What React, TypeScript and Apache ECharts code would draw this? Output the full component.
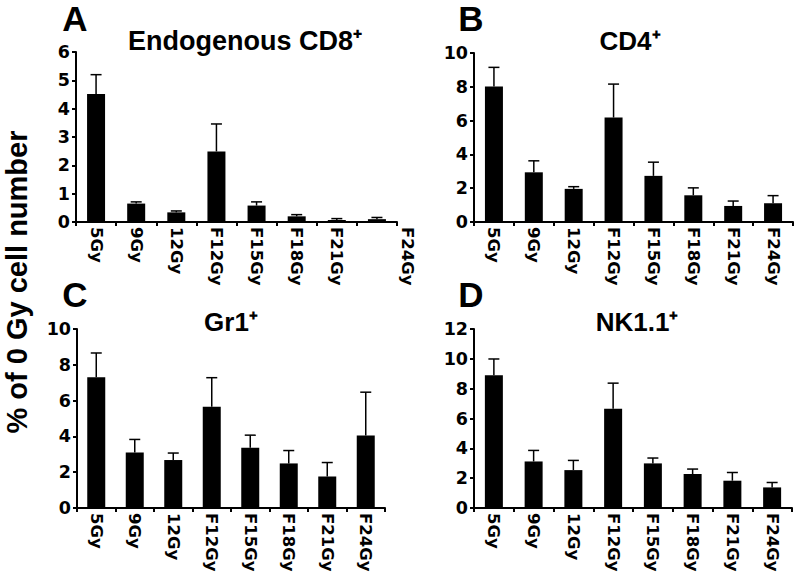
import React, { useEffect, useRef } from 'react';
import * as echarts from 'echarts';

const categories = ['5Gy', '9Gy', '12Gy', 'F12Gy', 'F15Gy', 'F18Gy', 'F21Gy', 'F24Gy'];

const cd8Mean = [4.52, 0.65, 0.34, 2.49, 0.58, 0.2, 0.07, 0.1];
const cd8Err = [0.68, 0.06, 0.05, 0.97, 0.13, 0.06, 0.05, 0.06];
const cd4Mean = [8.02, 2.94, 1.96, 6.18, 2.73, 1.58, 0.95, 1.11];
const cd4Err = [1.13, 0.68, 0.13, 1.98, 0.81, 0.44, 0.29, 0.45];
const gr1Mean = [7.31, 3.1, 2.68, 5.65, 3.36, 2.49, 1.76, 4.05];
const gr1Err = [1.35, 0.73, 0.39, 1.63, 0.71, 0.72, 0.78, 2.42];
const nkMean = [8.9, 3.12, 2.54, 6.65, 2.99, 2.28, 1.83, 1.38];
const nkErr = [1.09, 0.74, 0.65, 1.72, 0.36, 0.33, 0.55, 0.33];

const titles = ['Endogenous CD8⁺', 'CD4⁺', 'Gr1⁺', 'NK1.1⁺'];
const letters = ['A', 'B', 'C', 'D'];
const yMax = [6, 10, 10, 12];
const yInterval = [1, 2, 2, 2];
const yAxisName = '% of 0 Gy cell number';

const FONT = 'Liberation Sans';
const TICK_FONT = 'DejaVu Sans';

export default function App() {
  const ref = useRef<HTMLDivElement>(null);
  useEffect(() => {
    document.body.style.margin = '0';
    const chart = echarts.init(ref.current!, null, { renderer: 'svg' });

    const panels = [
      { mean: cd8Mean, err: cd8Err, grid: { left: 76, top: 52, width: 321, height: 170 }, title: [245, 41], titleSize: 27, letter: [75, 18], hideLast: true },
      { mean: cd4Mean, err: cd4Err, grid: { left: 474, top: 53, width: 319, height: 169 }, title: [630, 41], titleSize: 26, letter: [471, 18], hideLast: false },
      { mean: gr1Mean, err: gr1Err, grid: { left: 77, top: 329, width: 308, height: 179 }, title: [231, 322], titleSize: 26, letter: [75, 294], hideLast: false },
      { mean: nkMean, err: nkErr, grid: { left: 474, top: 329, width: 318, height: 179 }, title: [637, 322], titleSize: 26, letter: [471, 294], hideLast: false },
    ];

    const axisLine = { show: true, lineStyle: { color: '#000', width: 2 } };
    const axisTick = { show: true, length: 4, lineStyle: { color: '#000', width: 2 } };
    const labelStyle = { color: '#000', fontFamily: TICK_FONT, fontWeight: 700 };

    const graphic: any[] = [];
    panels.forEach((p, i) => {
      graphic.push({
        type: 'text', x: p.title[0], y: p.title[1],
        style: { text: titles[i], fontFamily: FONT, fontWeight: 700, fontSize: p.titleSize, fill: '#000', textAlign: 'center', textVerticalAlign: 'middle' },
      });
      graphic.push({
        type: 'text', x: p.letter[0], y: p.letter[1],
        style: { text: letters[i], fontFamily: FONT, fontWeight: 700, fontSize: 35, fill: '#000', textAlign: 'center', textVerticalAlign: 'middle' },
      });
    });
    graphic.push({
      type: 'text', x: 407, y: 227, rotation: -Math.PI / 2,
      style: { text: categories[7], fontFamily: TICK_FONT, fontWeight: 700, fontSize: 16.5, fill: '#000', textAlign: 'left', textVerticalAlign: 'middle' },
    });
    graphic.push({
      type: 'text', x: 17, y: 282, rotation: Math.PI / 2,
      style: { text: yAxisName, fontFamily: FONT, fontWeight: 700, fontSize: 29, fill: '#000', textAlign: 'center', textVerticalAlign: 'middle' },
    });

    const option: any = {
      animation: false,
      backgroundColor: '#fff',
      grid: panels.map((p) => ({ ...p.grid, containLabel: false, outerBoundsMode: 'none' })),
      xAxis: panels.map((p, i) => ({
        type: 'category', gridIndex: i, data: categories,
        axisLine, axisTick: { ...axisTick, interval: 0 },
        axisLabel: {
          ...labelStyle, fontSize: 16.5, rotate: -90, interval: 0, margin: 5,
          formatter: (v: string, idx: number) => (p.hideLast && idx === 7 ? '' : v),
        },
        splitLine: { show: false },
      })),
      yAxis: panels.map((p, i) => ({
        type: 'value', gridIndex: i, min: 0, max: yMax[i], interval: yInterval[i],
        axisLine, axisTick, axisLabel: { ...labelStyle, fontSize: 17.5, margin: 6 },
        splitLine: { show: false },
      })),
      series: panels.flatMap((p, i) => [
        {
          type: 'bar', xAxisIndex: i, yAxisIndex: i, data: p.mean, barWidth: 18,
          itemStyle: { color: '#000' },
        },
        {
          type: 'custom', xAxisIndex: i, yAxisIndex: i,
          data: p.mean.map((m, k) => [k, m, p.err[k]]),
          encode: { x: 0, y: 1 },
          renderItem: (params: any, api: any) => {
            const k = api.value(0);
            const v = api.value(1);
            const e = api.value(2);
            const base = api.coord([k, v]);
            const top = api.coord([k, v + e]);
            const st = { stroke: '#000', lineWidth: 1.5 };
            return {
              type: 'group',
              children: [
                { type: 'line', shape: { x1: base[0], y1: base[1], x2: top[0], y2: top[1] }, style: st },
                { type: 'line', shape: { x1: top[0] - 5.5, y1: top[1], x2: top[0] + 5.5, y2: top[1] }, style: st },
              ],
            };
          },
        },
      ]),
      graphic,
    };
    chart.setOption(option);
    return () => chart.dispose();
  }, []);
  return <div ref={ref} style={{ width: 800, height: 578 }} />;
}
